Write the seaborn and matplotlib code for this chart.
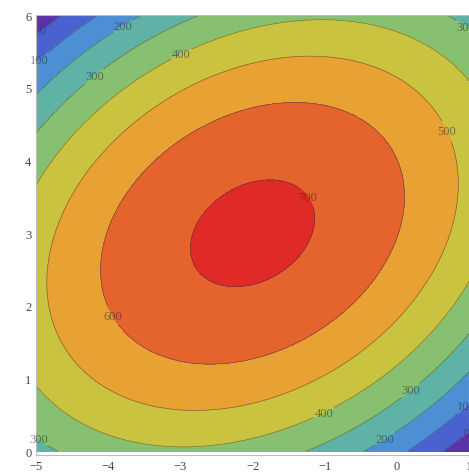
import numpy as np
import matplotlib
matplotlib.use('Agg')
import matplotlib.pyplot as plt
import seaborn as sns

# surface: peak near (-2, 3), tilted elliptical contours
peak_value = 720.0
peak_x, peak_y = -2.0, 3.0
coef_xx, coef_yy, coef_xy = 29.35, 40.2, 19.2

x_range = (-5, 1)
y_range = (0, 6)
levels = [0, 100, 200, 300, 400, 500, 600, 700]
band_colors = ['#5a33a8', '#4a62cf', '#4c8fd4', '#5eb3a6', '#87c070',
               '#c9c33f', '#e8a233', '#e5632d', '#e02a27']

# where the contour labels sit in the reference
label_spots = [(-4.93, 5.82), (-4.96, 5.4), (-3.8, 5.85), (-4.2, 5.17),
               (-3.0, 5.5), (0.68, 4.4), (-3.97, 1.85), (-1.24, 3.5),
               (0.16, 0.88), (-1.02, 0.55), (-0.19, 0.21), (-4.95, 0.19),
               (0.97, 0.62), (0.97, 0.25), (0.97, 5.86)]

sns.set_style("white")
plt.rcParams['font.family'] = ['Liberation Serif', 'DejaVu Serif']

xs = np.linspace(x_range[0], x_range[1], 400)
ys = np.linspace(y_range[0], y_range[1], 400)
X, Y = np.meshgrid(xs, ys)
U, V = X - peak_x, Y - peak_y
Z = peak_value - (coef_xx * U**2 + coef_yy * V**2 - coef_xy * U * V)

fig = plt.figure(figsize=(4.69, 4.77), dpi=100)
ax = fig.add_axes([0.077, 0.044, 0.923, 0.922])

fill_levels = [Z.min() - 1] + levels + [Z.max() + 1]
ax.contourf(X, Y, Z, levels=fill_levels, colors=band_colors)
lines = ax.contour(X, Y, Z, levels=levels, colors='#3a3a3a', linewidths=0.5, alpha=0.6)
labels = ax.clabel(lines, fmt='%d', fontsize=9, inline=True, inline_spacing=2,
                   manual=label_spots, colors='#333333')
for t in labels:
    t.set_rotation(0)
    t.set_clip_on(False)

ax.set_xlim(x_range)
ax.set_ylim(-0.05, 6.0)
ax.set_xticks(range(-5, 2))
ax.set_yticks(range(0, 7))
ax.set_xticks(np.arange(-5, 1.01, 0.2), minor=True)
ax.set_yticks(np.arange(0, 6.01, 0.2), minor=True)
ax.set_xticklabels([str(v).replace('-', '\u2212') for v in range(-5, 2)])
ax.tick_params(which='both', direction='in', color='#aaaaaa', labelcolor='#444444',
               labelsize=9, top=True, right=True)
ax.tick_params(which='major', length=5, width=0.6)
ax.tick_params(which='minor', length=2.5, width=0.5)
for sp in ax.spines.values():
    sp.set_color('#bbbbbb')
    sp.set_linewidth(0.8)

fig.savefig('out.png', dpi=100)
